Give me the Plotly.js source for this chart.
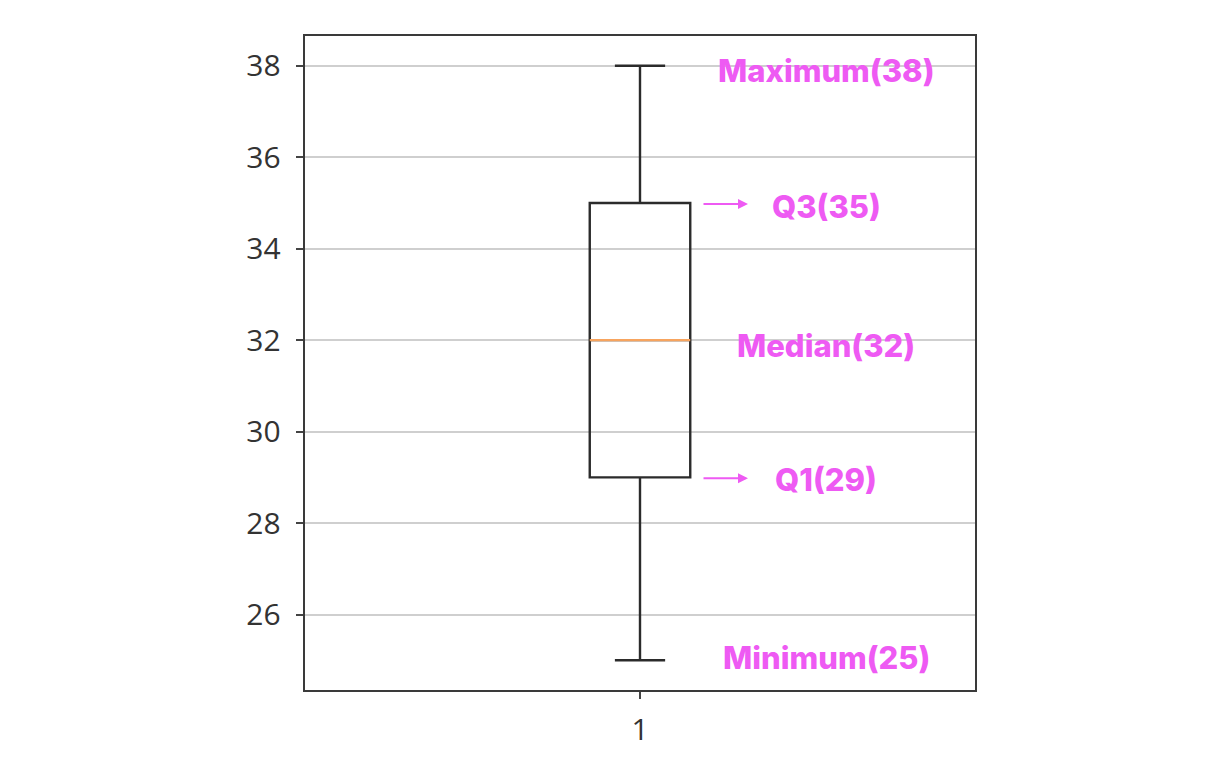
<!DOCTYPE html>
<html>
<head>
<meta charset="utf-8">
<script src="https://cdn.plot.ly/plotly-3.0.1.min.js"></script>
<style>html,body{margin:0;padding:0;background:#fff;}#chart{width:1206px;height:778px;}</style>
</head>
<body>
<div id="chart"></div>
<script>
// Data
const categories = [1];
const minimums = [25];
const q1s = [29];
const medians = [32];
const q3s = [35];
const maximums = [38];
const yTicks = [26, 28, 30, 32, 34, 36, 38];
const labelTexts = ['Maximum(38)', 'Q3(35)', 'Median(32)', 'Q1(29)', 'Minimum(25)'];
const labelValues = [38, 35, 32, 29, 25];

const boxWidth = 0.15;
const magenta = '#EE5AF3';

const boxTrace = {
  type: 'box',
  x: categories,
  q1: q1s, median: medians, q3: q3s,
  lowerfence: minimums, upperfence: maximums,
  width: boxWidth,
  whiskerwidth: 0.5,
  line: {color: '#2b2b2b', width: 2.4},
  fillcolor: 'rgba(255,255,255,0)',
  boxpoints: false,
  hoverinfo: 'skip'
};
const medianTrace = {
  type: 'scatter', mode: 'lines',
  x: [categories[0] - boxWidth / 2, categories[0] + boxWidth / 2],
  y: [medians[0], medians[0]],
  line: {color: '#F7A45E', width: 2.4},
  hoverinfo: 'skip'
};

const yShifts = [-5, -4, -5, -2, 3];
const annotations = labelTexts.map((t, i) => ({
  xref: 'paper', yref: 'y', x: 0.778, y: labelValues[i],
  text: t, showarrow: false, yshift: yShifts[i],
  font: {family: 'Inter, "Open Sans", sans-serif', size: 31, weight: 800, color: magenta},
  xanchor: 'center', yanchor: 'middle'
}));
// arrows to Q3 and Q1
[q3s[0], q1s[0]].forEach(v => {
  annotations.push({
    xref: 'paper', yref: 'y', x: (748 - 305) / 670, y: v, yshift: -1,
    text: '', showarrow: true, ax: -46, ay: 0,
    arrowhead: 2, arrowsize: 1, arrowwidth: 2, arrowcolor: magenta
  });
});

const layout = {
  width: 1206, height: 778,
  margin: {l: 305, r: 231, t: 36, b: 88},
  paper_bgcolor: '#fff', plot_bgcolor: '#fff',
  showlegend: false,
  xaxis: {
    range: [0.5, 1.5], tickvals: categories, ticktext: categories.map(String),
    ticks: 'outside', ticklen: 7, tickwidth: 2, tickcolor: '#444',
    ticklabelstandoff: 5,
    showgrid: false, zeroline: false,
    showline: true, linecolor: '#3a3a3a', linewidth: 2.4, mirror: true,
    tickfont: {family: '"Open Sans", sans-serif', size: 30, color: '#333'}
  },
  yaxis: {
    range: [24.35, 38.65], tickvals: yTicks,
    ticks: 'outside', ticklen: 7, tickwidth: 2, tickcolor: '#444',
    ticklabelstandoff: 9,
    showgrid: true, gridcolor: '#cfcfcf', gridwidth: 2, zeroline: false,
    showline: true, linecolor: '#3a3a3a', linewidth: 2.4, mirror: true,
    tickfont: {family: '"Open Sans", sans-serif', size: 30, color: '#333'}
  },
  annotations: annotations
};

Plotly.newPlot('chart', [boxTrace, medianTrace], layout, {displayModeBar: false, staticPlot: true});
</script>
</body>
</html>
